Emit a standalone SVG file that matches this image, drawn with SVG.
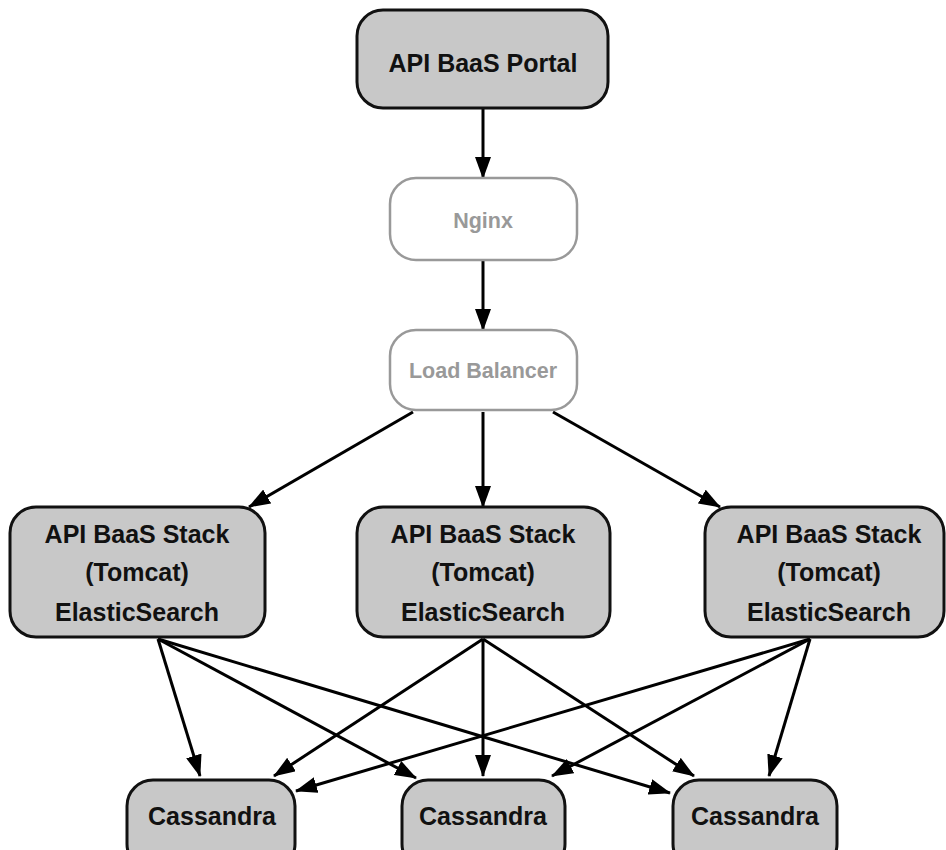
<svg xmlns="http://www.w3.org/2000/svg" width="946" height="850" viewBox="0 0 946 850">
<style>
.dark rect{fill:#c8c8c8;stroke:#111;stroke-width:3}
.light rect{fill:#fff;stroke:#999;stroke-width:2.5}
text{font-family:"Liberation Sans",Arial,sans-serif;font-weight:bold;text-anchor:middle}
.dark text{fill:#111;font-size:25px}
.light text{fill:#999;font-size:21.5px}
#edges line{stroke:#000;stroke-width:3;marker-end:url(#ah)}
</style>
<defs>
<marker id="ah" markerUnits="userSpaceOnUse" markerWidth="22" markerHeight="16" refX="21" refY="8" orient="auto">
<path d="M0,0 L22,8 L0,16 z" fill="#000"/>
</marker>
</defs>
<rect width="946" height="850" fill="#fff"/>
<g id="edges">
<line x1="483" y1="109" x2="483" y2="178"/>
<line x1="483" y1="261" x2="483" y2="330"/>
<line x1="413" y1="412" x2="249" y2="507"/>
<line x1="483" y1="412" x2="483" y2="507"/>
<line x1="553" y1="412" x2="720" y2="507"/>
<line x1="158" y1="639" x2="200" y2="776"/>
<line x1="158" y1="639" x2="416" y2="778"/>
<line x1="158" y1="639" x2="670" y2="793"/>
<line x1="483" y1="639" x2="274" y2="776"/>
<line x1="483" y1="639" x2="483" y2="776"/>
<line x1="483" y1="639" x2="694" y2="776"/>
<line x1="810" y1="639" x2="296" y2="791"/>
<line x1="810" y1="639" x2="552" y2="776"/>
<line x1="810" y1="639" x2="769" y2="776"/>
</g>
<g id="portal" class="dark"><rect x="357" y="10" width="251" height="98" rx="26"/><text x="483" y="72">API BaaS Portal</text></g>
<g id="nginx" class="light"><rect x="390" y="178" width="187" height="82" rx="26"/><text x="483" y="228">Nginx</text></g>
<g id="lb" class="light"><rect x="390" y="330" width="187" height="80" rx="26"/><text x="483" y="378">Load Balancer</text></g>
<g id="stack1" class="dark"><rect x="10" y="507" width="255" height="130" rx="26"/><text x="137" y="543">API BaaS Stack</text><text x="137" y="581">(Tomcat)</text><text x="137" y="621">ElasticSearch</text></g>
<g id="stack2" class="dark"><rect x="357" y="507" width="253" height="130" rx="26"/><text x="483" y="543">API BaaS Stack</text><text x="483" y="581">(Tomcat)</text><text x="483" y="621">ElasticSearch</text></g>
<g id="stack3" class="dark"><rect x="705" y="507" width="239" height="130" rx="26"/><text x="829" y="543">API BaaS Stack</text><text x="829" y="581">(Tomcat)</text><text x="829" y="621">ElasticSearch</text></g>
<g id="cass1" class="dark"><rect x="127" y="780" width="168" height="90" rx="26"/><text x="212" y="825">Cassandra</text></g>
<g id="cass2" class="dark"><rect x="402" y="780" width="163" height="90" rx="26"/><text x="483" y="825">Cassandra</text></g>
<g id="cass3" class="dark"><rect x="673" y="780" width="164" height="90" rx="26"/><text x="755" y="825">Cassandra</text></g>
</svg>
